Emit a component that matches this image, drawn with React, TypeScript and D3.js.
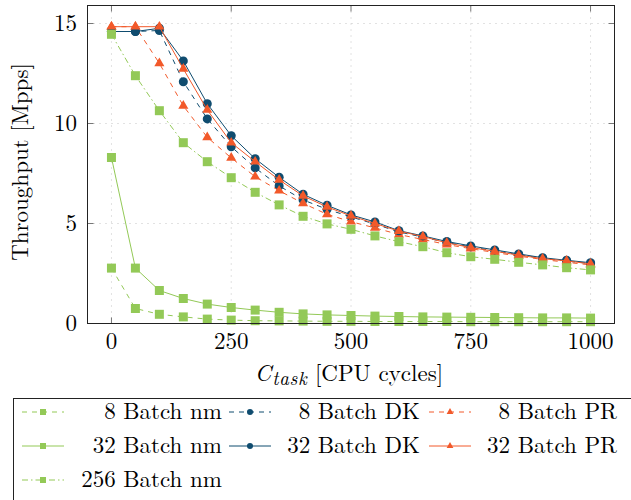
import React, { useEffect, useRef } from 'react';
import * as d3 from 'd3';

// CPU cycles per task (x axis)
const cycles = [0, 50, 100, 150, 200, 250, 300, 350, 400, 450, 500, 550, 600, 650, 700, 750, 800, 850, 900, 950, 1000];

// throughput in Mpps
const batch8Nm = [2.77, 0.75, 0.46, 0.33, 0.22, 0.17, 0.14, 0.13, 0.12, 0.11, 0.11, 0.1, 0.1, 0.1, 0.1, 0.09, 0.09, 0.09, 0.09, 0.09, 0.09];
const batch8Dk = [14.6, 14.6, 14.65, 12.09, 10.23, 8.84, 7.78, 6.88, 6.18, 5.71, 5.33, 4.97, 4.58, 4.32, 4.05, 3.83, 3.63, 3.44, 3.26, 3.12, 3.0];
const batch8Pr = [14.84, 14.84, 13.01, 10.88, 9.31, 8.28, 7.34, 6.64, 6.01, 5.46, 5.09, 4.78, 4.45, 4.2, 3.95, 3.74, 3.55, 3.37, 3.2, 3.06, 2.93];
const batch32Nm = [8.3, 2.77, 1.65, 1.25, 0.97, 0.8, 0.67, 0.56, 0.48, 0.43, 0.4, 0.37, 0.35, 0.33, 0.32, 0.31, 0.3, 0.29, 0.28, 0.28, 0.27];
const batch32Dk = [14.6, 14.6, 14.76, 13.13, 10.99, 9.39, 8.24, 7.31, 6.46, 5.91, 5.43, 5.08, 4.64, 4.38, 4.1, 3.88, 3.68, 3.48, 3.29, 3.16, 3.04];
const batch32Pr = [14.84, 14.84, 14.84, 12.73, 10.68, 9.04, 8.09, 7.18, 6.38, 5.83, 5.38, 5.0, 4.62, 4.35, 4.03, 3.8, 3.61, 3.42, 3.24, 3.13, 2.98];
const batch256Nm = [14.46, 12.39, 10.64, 9.04, 8.09, 7.29, 6.56, 5.93, 5.36, 4.98, 4.71, 4.38, 4.09, 3.84, 3.54, 3.34, 3.21, 3.06, 2.93, 2.79, 2.68];

const xTicks = [0, 250, 500, 750, 1000];
const yTicks = [0, 5, 10, 15];

const GREEN = '#93c957';
const BLUE = '#0f4c6f';
const ORANGE = '#f2592a';

const FONT = "'Latin Modern Roman', 'CMU Serif', serif";
const FS = 23;

// draw order = legend order (3 columns, row by row)
const series = [
  { name: '8 Batch nm', values: batch8Nm, color: GREEN, dash: '5,5', mark: 'square' },
  { name: '8 Batch DK', values: batch8Dk, color: BLUE, dash: '5,5', mark: 'circle' },
  { name: '8 Batch PR', values: batch8Pr, color: ORANGE, dash: '5,5', mark: 'triangle' },
  { name: '32 Batch nm', values: batch32Nm, color: GREEN, dash: null, mark: 'square' },
  { name: '32 Batch DK', values: batch32Dk, color: BLUE, dash: null, mark: 'circle' },
  { name: '32 Batch PR', values: batch32Pr, color: ORANGE, dash: null, mark: 'triangle' },
  { name: '256 Batch nm', values: batch256Nm, color: GREEN, dash: '6,3,1.5,3', mark: 'square' },
];

function symbolFor(mark: string, scale: number) {
  if (mark === 'square') return d3.symbol(d3.symbolSquare, 81 * scale)();
  if (mark === 'circle') return d3.symbol(d3.symbolCircle, 64 * scale)();
  return d3.symbol(d3.symbolTriangle, 44 * scale)();
}

export default function App() {
  const ref = useRef<SVGSVGElement>(null);

  useEffect(() => {
    const svg = d3.select(ref.current);
    svg.selectAll('*').remove();

    const left = 87.5, right = 614.5, top = 5.5, bottom = 323.5;
    const x = d3.scaleLinear().domain([-50, 1050]).range([left, right]);
    const y = d3.scaleLinear().domain([0, 15.9]).range([bottom, top]);

    // dotted grid
    const grid = svg.append('g');
    xTicks.forEach((t) => {
      grid.append('line')
        .attr('x1', x(t)).attr('x2', x(t))
        .attr('y1', top).attr('y2', bottom)
        .attr('stroke', '#c4c4c4').attr('stroke-dasharray', '1,5');
    });
    yTicks.forEach((t) => {
      grid.append('line')
        .attr('x1', left).attr('x2', right)
        .attr('y1', y(t)).attr('y2', y(t))
        .attr('stroke', '#c4c4c4').attr('stroke-dasharray', '1,5');
    });

    // tick marks on all four sides, pointing in
    const ticks = svg.append('g').attr('stroke', '#777').attr('stroke-width', 1);
    xTicks.forEach((t) => {
      ticks.append('line').attr('x1', x(t)).attr('x2', x(t)).attr('y1', bottom).attr('y2', bottom - 6);
      ticks.append('line').attr('x1', x(t)).attr('x2', x(t)).attr('y1', top).attr('y2', top + 6);
    });
    yTicks.forEach((t) => {
      ticks.append('line').attr('x1', left).attr('x2', left + 6).attr('y1', y(t)).attr('y2', y(t));
      ticks.append('line').attr('x1', right).attr('x2', right - 6).attr('y1', y(t)).attr('y2', y(t));
    });

    // the data
    const line = d3.line<number>()
      .x((d, i) => x(cycles[i]))
      .y((d) => y(d));

    series.forEach((s) => {
      const g = svg.append('g');
      g.append('path')
        .attr('d', line(s.values))
        .attr('fill', 'none')
        .attr('stroke', s.color)
        .attr('stroke-width', 1)
        .attr('stroke-dasharray', s.dash);
      g.selectAll('path.mark')
        .data(s.values)
        .enter()
        .append('path')
        .attr('class', 'mark')
        .attr('d', symbolFor(s.mark, 1))
        .attr('transform', (d, i) => 'translate(' + x(cycles[i]) + ',' + y(d) + ')')
        .attr('fill', s.color);
    });

    // frame
    svg.append('rect')
      .attr('x', left).attr('y', top)
      .attr('width', right - left).attr('height', bottom - top)
      .attr('fill', 'none').attr('stroke', '#222').attr('stroke-width', 1);

    const labels = svg.append('g')
      .attr('font-family', FONT)
      .attr('font-size', FS);

    // tick labels
    xTicks.forEach((t) => {
      labels.append('text')
        .attr('x', x(t)).attr('y', 349)
        .attr('text-anchor', 'middle')
        .text(t);
    });
    yTicks.forEach((t) => {
      labels.append('text')
        .attr('x', 77).attr('y', y(t))
        .attr('dy', '0.32em')
        .attr('text-anchor', 'end')
        .text(t);
    });

    // axis labels
    const xl = labels.append('text')
      .attr('x', (left + right) / 2 - 2).attr('y', 381)
      .attr('text-anchor', 'middle');
    xl.append('tspan').attr('font-style', 'italic').text('C');
    xl.append('tspan').attr('font-style', 'italic').attr('font-size', 19)
      .attr('letter-spacing', 0.6).attr('dx', 1).attr('dy', 4).text('task');
    xl.append('tspan').attr('dy', -4).text(' [CPU cycles]');

    labels.append('text')
      .attr('transform', 'translate(28,162) rotate(-90)')
      .attr('text-anchor', 'middle')
      .text('Throughput [Mpps]');

    // legend, runs off the right and bottom edge
    const le = svg.append('g')
      .attr('font-family', FONT)
      .attr('font-size', FS);
    le.append('rect')
      .attr('x', 13.5).attr('y', 398.5)
      .attr('width', 700).attr('height', 200)
      .attr('fill', 'white').attr('stroke', '#222').attr('stroke-width', 1);

    const colX = [22, 229, 429];
    const textRight = [222, 420, 617];
    const rowY = [412, 446, 480];
    series.forEach((s, i) => {
      const c = i % 3;
      const r = Math.floor(i / 3);
      const cy = rowY[r];
      le.append('line')
        .attr('x1', colX[c]).attr('x2', colX[c] + 42)
        .attr('y1', cy).attr('y2', cy)
        .attr('stroke', s.color).attr('stroke-width', 1)
        .attr('stroke-dasharray', s.dash);
      le.append('path')
        .attr('d', symbolFor(s.mark, 0.45))
        .attr('transform', 'translate(' + (colX[c] + 21) + ',' + cy + ')')
        .attr('fill', s.color);
      le.append('text')
        .attr('x', textRight[c]).attr('y', cy)
        .attr('dy', '0.32em')
        .attr('text-anchor', 'end')
        .text(s.name);
    });
  }, []);

  return (
    <div style={{ position: 'absolute', left: 0, top: 0 }}>
      <svg ref={ref} width={631} height={500} style={{ display: 'block', background: 'white' }} />
    </div>
  );
}
